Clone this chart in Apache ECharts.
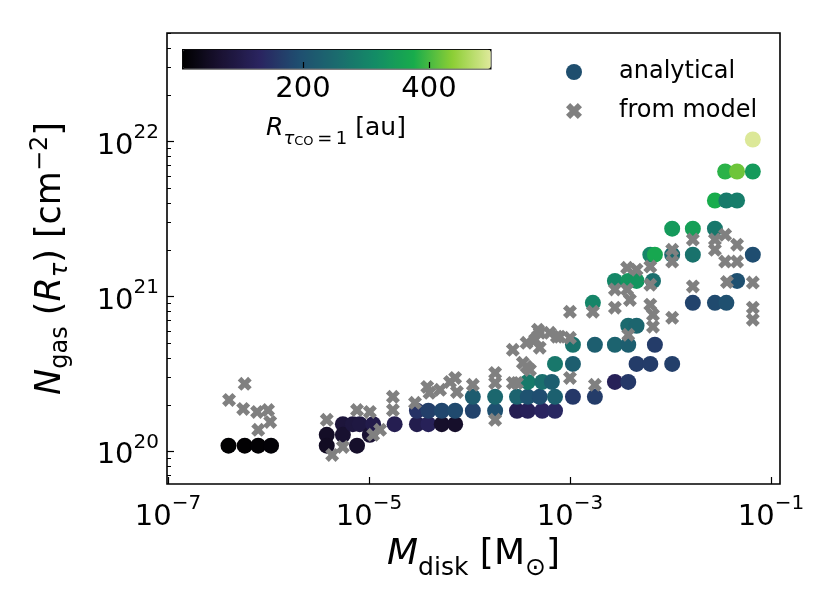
<!DOCTYPE html>
<html>
<head>
<meta charset="utf-8">
<script src="https://cdn.jsdelivr.net/npm/echarts@6/dist/echarts.min.js"></script>
<style>
  html, body { margin: 0; padding: 0; background: #fff; }
  #chart { width: 831px; height: 608px; }
</style>
</head>
<body>
<div id="chart"></div>
<script>
// analytical points: disk mass [Msun], N_gas [cm^-2], R_tau=1 [au]
const anaMass = [
  4.0e-7, 5.8e-7, 7.9e-7, 1.06e-6,
  3.8e-6, 3.8e-6, 5.5e-6, 5.5e-6, 6.9e-6, 7.6e-6, 8.1e-6, 1.02e-5, 1.1e-5, 1.8e-5,
  3.0e-5, 3.9e-5, 5.3e-5, 7.2e-5,
  3.0e-5, 3.9e-5, 5.3e-5, 7.2e-5, 1.08e-4, 1.8e-4, 2.97e-4, 3.8e-4, 5.3e-4, 7.1e-4,
  1.08e-4, 1.8e-4, 2.97e-4, 3.8e-4, 5.0e-4, 7.1e-4, 1.07e-3, 1.77e-3,
  3.8e-4, 5.3e-4, 6.6e-4, 2.8e-3, 3.8e-3,
  7.1e-4, 1.07e-3, 4.6e-3, 6.3e-3, 1.04e-2,
  1.07e-3, 1.77e-3, 2.8e-3, 3.8e-3, 7.0e-3,
  3.8e-3, 4.6e-3,
  1.69e-3, 1.67e-2, 2.77e-2, 3.6e-2,
  2.8e-3, 3.8e-3, 4.6e-3, 6.7e-3, 4.6e-2,
  6.3e-3, 7.0e-3, 1.04e-2, 1.67e-2, 6.6e-2,
  1.04e-2, 1.67e-2, 2.77e-2,
  2.77e-2, 3.6e-2, 4.6e-2,
  3.5e-2, 4.6e-2, 6.6e-2,
  6.6e-2
];
const anaNgas = [
  1.09e20, 1.09e20, 1.09e20, 1.09e20,
  1.28e20, 1.09e20, 1.5e20, 1.28e20, 1.5e20, 1.09e20, 1.5e20, 1.28e20, 1.5e20, 1.5e20,
  1.5e20, 1.5e20, 1.5e20, 1.5e20,
  1.83e20, 1.83e20, 1.83e20, 1.83e20, 1.83e20, 1.83e20, 1.83e20, 1.83e20, 1.83e20, 1.83e20,
  2.25e20, 2.25e20, 2.25e20, 2.25e20, 2.25e20, 2.25e20, 2.25e20, 2.25e20,
  2.81e20, 2.81e20, 2.81e20, 2.81e20, 2.81e20,
  3.67e20, 3.67e20, 3.67e20, 3.67e20, 3.67e20,
  4.88e20, 4.88e20, 4.88e20, 4.88e20, 4.88e20,
  6.47e20, 6.47e20,
  9.1e20, 9.1e20, 9.1e20, 9.1e20,
  1.26e21, 1.26e21, 1.26e21, 1.26e21, 1.26e21,
  1.86e21, 1.86e21, 1.86e21, 1.86e21, 1.86e21,
  2.74e21, 2.74e21, 2.74e21,
  4.16e21, 4.16e21, 4.16e21,
  6.4e21, 6.4e21, 6.4e21,
  1.03e22
];
const anaRadius = [
  10, 12, 14, 16,
  55, 50, 80, 65, 85, 60, 90, 70, 100, 110,
  105, 120, 60, 60,
  150, 170, 180, 185, 175, 195, 110, 120, 130, 135,
  220, 245, 235, 200, 190, 230, 160, 165,
  280, 260, 225, 120, 160,
  275, 225, 165, 165, 170,
  265, 225, 235, 225, 165,
  250, 240,
  300, 175, 185, 195,
  305, 330, 330, 260, 195,
  300, 365, 250, 265, 190,
  340, 350, 275,
  375, 280, 285,
  385, 420, 340,
  495
];

// values from the model
const modMass = [
  4.05e-7, 5.8e-7, 5.6e-7, 7.7e-7, 9.9e-7, 1.04e-6, 7.9e-7,
  3.8e-6, 4.3e-6, 5.5e-6, 7.6e-6, 1.02e-5, 1.1e-5, 1.73e-5, 1.73e-5, 1.29e-5,
  2.87e-5, 3.8e-5, 4.0e-5, 5.1e-5, 6.4e-5, 7.2e-5, 7.5e-5, 1.08e-4, 1.8e-4, 1.8e-4, 1.8e-4,
  2.7e-4, 2.97e-4, 3.4e-4, 3.7e-4, 4.0e-4, 4.5e-4, 4.8e-4, 5.0e-4, 6.3e-4, 7.4e-4, 5.0e-4, 3.7e-4, 2.7e-4,
  1.0e-3, 1.0e-3, 1.0e-3, 1.77e-3, 1.69e-3, 7.9e-4,
  2.8e-3, 2.8e-3, 3.7e-3, 3.95e-3, 3.7e-3, 4.6e-3, 6.3e-3, 6.3e-3, 6.3e-3, 6.7e-3, 6.7e-3, 3.8e-3,
  1.04e-2, 1.04e-2, 1.04e-2, 1.67e-2, 1.67e-2, 2.77e-2, 2.77e-2, 3.5e-2, 4.6e-2, 3.5e-2, 4.6e-2,
  3.65e-2, 6.6e-2, 6.6e-2, 6.6e-2
];
const modNgas = [
  2.15e20, 2.73e20, 1.88e20, 1.8e20, 1.85e20, 1.55e20, 1.38e20,
  1.6e20, 9.5e19, 1.07e20, 1.85e20, 1.8e20, 1.28e20, 2.25e20, 1.85e20, 1.38e20,
  2.06e20, 2.61e20, 2.39e20, 2.5e20, 2.81e20, 2.98e20, 2.42e20, 2.69e20, 3.21e20, 2.77e20, 1.6e20,
  4.53e20, 2.77e20, 3.73e20, 5.02e20, 3.36e20, 5.26e20, 6.1e20, 5.83e20, 5.83e20, 5.5e20, 4.67e20, 3.52e20, 2.77e20,
  7.97e20, 5.41e20, 2.98e20, 2.69e20, 7.97e20, 5.5e20,
  1.11e21, 8.46e20, 1.11e21, 9.5e20, 1.53e21, 1.49e21, 1.56e21, 1.19e21, 8.85e20, 7.62e20, 6.38e20, 5.66e20,
  2.0e21, 1.68e21, 7.29e20, 2.33e21, 1.16e21, 2.33e21, 2.0e21, 2.5e21, 2.16e21, 1.68e21, 1.68e21,
  1.24e21, 1.23e21, 8.46e20, 7.08e20
];

// axis ticks (log10 exponents)
const xMajorTicks = [-7, -5, -3, -1];
const yMajorTicks = [20, 21, 22];
const cbarTicks = [200, 400];

const FONT = 'DejaVu Sans';
// filled, thick "X" like matplotlib's marker
const crossPath = 'path://M0,2.6L2.6,0L5,2.4L7.4,0L10,2.6L7.6,5L10,7.4L7.4,10L5,7.6L2.6,10L0,7.4L2.4,5Z';

const yMinorTicks = [];
for (let n = 19; n <= 22; n++) {
  for (let k = 2; k <= 9; k++) {
    const v = n + Math.log10(k);
    if (v > 19.79 && v < 22.7) yMinorTicks.push(v);
  }
}

const powLabel = v => '{b|10}{s|' + (v < 0 ? '\u2212' : '') + Math.abs(v) + '}';
const powRich = {
  b: { fontFamily: FONT, fontSize: 29, color: '#000', lineHeight: 38, verticalAlign: 'bottom' },
  s: { fontFamily: FONT, fontSize: 20, color: '#000', lineHeight: 22, verticalAlign: 'top' }
};

const chart = echarts.init(document.getElementById('chart'), null, { renderer: 'canvas' });

chart.setOption({
  backgroundColor: '#fff',
  animation: false,
  textStyle: { fontFamily: FONT },
  grid: [
    { left: 167, top: 33, width: 613, height: 451, show: true, borderColor: '#000', borderWidth: 1.6, outerBoundsMode: 'none', z: 3 },
    { left: 182, top: 49, width: 308, height: 19, show: false, outerBoundsMode: 'none' }
  ],
  xAxis: [
    {
      type: 'value', gridIndex: 0, min: -7.01, max: -0.91,
      axisLine: { show: false },
      splitLine: { show: false },
      axisTick: { show: true, inside: true, length: 7, customValues: xMajorTicks, lineStyle: { color: '#000', width: 1.2 } },
      axisLabel: { customValues: xMajorTicks, margin: 10, formatter: powLabel, rich: powRich },
      name: '{i|M}{sub|disk}{r| [M}{sub|\u2299}{r|]}',
      nameLocation: 'middle', nameGap: 46,
      nameTextStyle: {
        rich: {
          i: { fontFamily: FONT, fontSize: 36, fontStyle: 'italic', color: '#000', lineHeight: 44, verticalAlign: 'top' },
          r: { fontFamily: FONT, fontSize: 36, color: '#000', lineHeight: 44, verticalAlign: 'top' },
          sub: { fontFamily: FONT, fontSize: 25, color: '#000', lineHeight: 25, verticalAlign: 'bottom' }
        }
      }
    },
    {
      type: 'value', gridIndex: 1, min: 8, max: 497, z: 10,
      axisLine: { show: false },
      splitLine: { show: false },
      axisTick: { show: true, inside: true, length: 6, customValues: cbarTicks, lineStyle: { color: '#000', width: 1.2 } },
      axisLabel: { customValues: cbarTicks, margin: 7, fontSize: 29, color: '#000', fontFamily: FONT },
      name: '{i|R}{si|\u03c4}{ss|CO}{sr|\u2009=\u20091}{r| [au]}',
      nameLocation: 'middle', nameGap: 48,
      nameTextStyle: {
        rich: {
          i: { fontFamily: FONT, fontSize: 25, fontStyle: 'italic', color: '#000', lineHeight: 32, verticalAlign: 'top' },
          r: { fontFamily: FONT, fontSize: 25, color: '#000', lineHeight: 32, verticalAlign: 'top' },
          si: { fontFamily: FONT, fontSize: 18, fontStyle: 'italic', color: '#000', lineHeight: 18, verticalAlign: 'bottom' },
          ss: { fontFamily: FONT, fontSize: 13, color: '#000', lineHeight: 13, verticalAlign: 'bottom' },
          sr: { fontFamily: FONT, fontSize: 18, color: '#000', lineHeight: 18, verticalAlign: 'bottom' }
        }
      }
    }
  ],
  yAxis: [
    {
      type: 'value', gridIndex: 0, min: 19.79, max: 22.7, position: 'left',
      axisLine: { show: false },
      splitLine: { show: false },
      axisTick: { show: true, inside: true, length: 7, customValues: yMajorTicks, lineStyle: { color: '#000', width: 1.2 } },
      axisLabel: { customValues: yMajorTicks, margin: 8, formatter: powLabel, rich: powRich },
      name: '{i|N}{sub|gas}{r| (}{i|R}{subi|\u03c4}{r|) [cm}{sup|\u22122}{r|]}',
      nameLocation: 'middle', nameRotate: 90, nameGap: 94,
      nameTextStyle: {
        rich: {
          i: { fontFamily: FONT, fontSize: 35, fontStyle: 'italic', color: '#000', lineHeight: 44 },
          r: { fontFamily: FONT, fontSize: 35, color: '#000', lineHeight: 44 },
          sub: { fontFamily: FONT, fontSize: 24, color: '#000', lineHeight: 24, verticalAlign: 'bottom' },
          subi: { fontFamily: FONT, fontSize: 24, fontStyle: 'italic', color: '#000', lineHeight: 24, verticalAlign: 'bottom' },
          sup: { fontFamily: FONT, fontSize: 24, color: '#000', lineHeight: 24, verticalAlign: 'top' }
        }
      }
    },
    {
      type: 'value', gridIndex: 0, min: 19.79, max: 22.7, position: 'left',
      axisLine: { show: false },
      splitLine: { show: false },
      axisLabel: { show: false },
      axisTick: { show: true, inside: true, length: 4, customValues: yMinorTicks, lineStyle: { color: '#000', width: 1 } }
    },
    {
      type: 'value', gridIndex: 1, min: 0, max: 1, show: false
    }
  ],
  visualMap: {
    type: 'continuous',
    seriesIndex: 0,
    dimension: 2,
    min: 8, max: 497,
    orient: 'horizontal',
    left: 182, top: 49,
    itemWidth: 19, itemHeight: 308,
    padding: 0,
    calculable: false,
    hoverLink: false,
    text: null,
    showLabel: false,
    borderColor: '#000', borderWidth: 1.5,
    inRange: {
      color: ['#000000', '#1a1233', '#2a2460', '#1f4e70', '#1b6b6e', '#138c66', '#18ac4c', '#8cce34', '#dfe99b']
    }
  },
  legend: {
    orient: 'vertical',
    left: 561, top: 55,
    itemWidth: 80, itemHeight: 16, itemGap: 15,
    textStyle: { fontFamily: FONT, fontSize: 24, color: '#000' },
    data: [
      { name: 'analytical', icon: 'circle' },
      { name: 'from model', icon: crossPath }
    ]
  },
  series: [
    {
      name: 'analytical',
      type: 'scatter',
      xAxisIndex: 0, yAxisIndex: 0,
      symbol: 'circle',
      symbolSize: 16,
      itemStyle: { color: '#1f4e6e', opacity: 1 },
      data: anaMass.map((m, i) => [Math.log10(m), Math.log10(anaNgas[i]), anaRadius[i]]),
      z: 2
    },
    {
      name: 'from model',
      type: 'scatter',
      xAxisIndex: 0, yAxisIndex: 0,
      symbol: crossPath,
      symbolSize: 14,
      itemStyle: { color: '#808080', opacity: 1 },
      data: modMass.map((m, i) => [Math.log10(m), Math.log10(modNgas[i])]),
      z: 3
    }
  ]
});
</script>
</body>
</html>
